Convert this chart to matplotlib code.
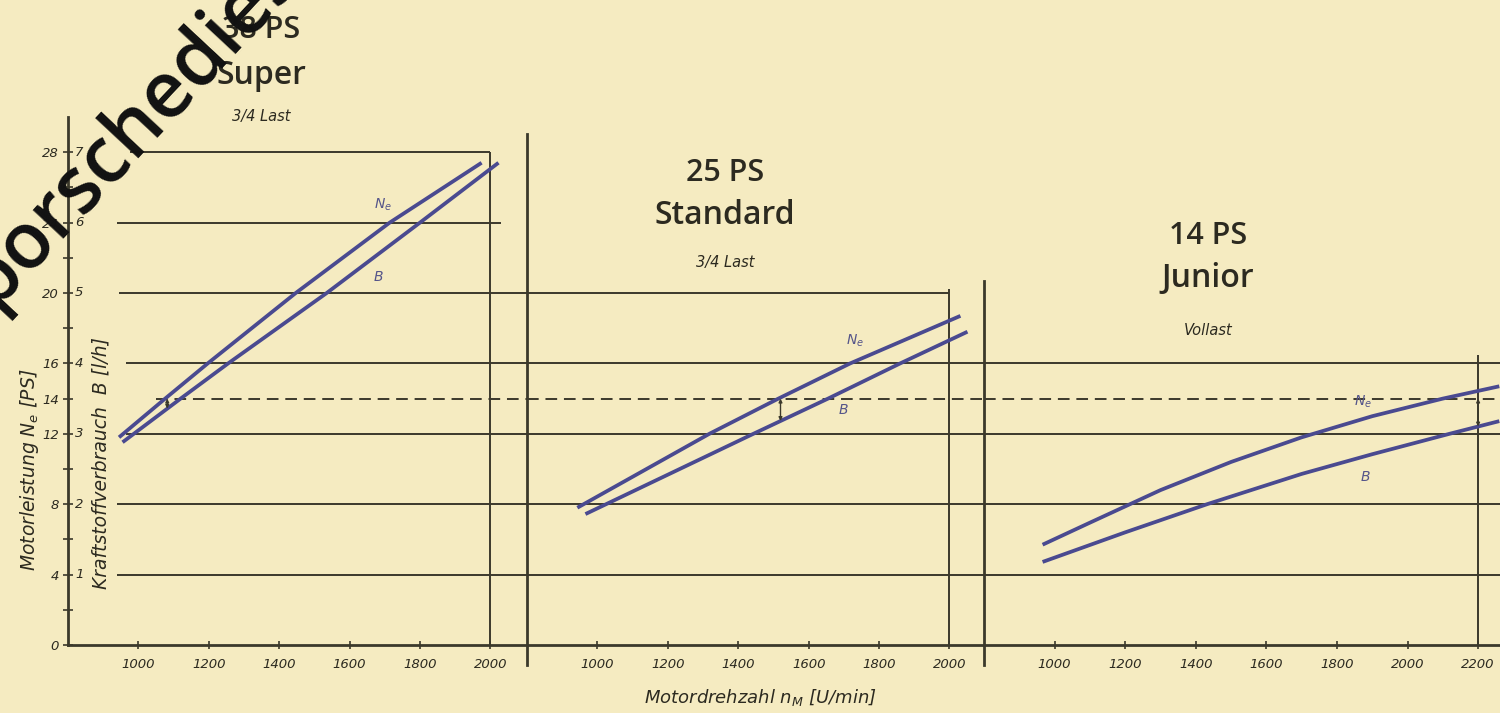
import matplotlib
matplotlib.use("Agg")
import matplotlib.pyplot as plt
import numpy as np

# right-hand scale: 1 l/h of fuel sits at 4 PS on the common vertical axis
PS_PER_LH = 4

ps_ticks = [0, 4, 8, 12, 14, 16, 20, 24, 28]
lh_ticks = [1, 2, 3, 4, 5, 6, 7]
ref_ps = 14  # dashed comparison line

titles = ["38 PS", "25 PS", "14 PS"]
models = ["Super", "Standard", "Junior"]
loads = ["3/4 Last", "3/4 Last", "Vollast"]

xticks = [
    [1000, 1200, 1400, 1600, 1800, 2000],
    [1000, 1200, 1400, 1600, 1800, 2000],
    [1000, 1200, 1400, 1600, 1800, 2000, 2200],
]

# Motorleistung Ne [PS] and Kraftstoffverbrauch B [l/h] over n [U/min]
super_rpm_ne = [945, 1076, 1197, 1447, 1714, 1975]
super_ne = [11.8, 14.0, 16.0, 20.0, 24.0, 27.4]
super_rpm_b = [955, 1120, 1255, 1535, 1800, 2023]
super_b = [2.88, 3.5, 4.0, 5.0, 6.0, 6.85]

standard_rpm_ne = [943, 1318, 1514, 1718, 2031]
standard_ne = [7.8, 12.0, 14.0, 16.0, 18.7]
standard_rpm_b = [966, 1443, 1655, 1860, 2051]
standard_b = [1.86, 3.0, 3.5, 4.0, 4.45]

junior_rpm_ne = [966, 1100, 1300, 1500, 1700, 1900, 2100, 2260]
junior_ne = [5.7, 6.95, 8.8, 10.4, 11.8, 13.0, 14.0, 14.7]
junior_rpm_b = [966, 1200, 1432, 1700, 1900, 2119, 2260]
junior_b = [1.18, 1.6, 2.0, 2.43, 2.71, 3.0, 3.18]

# rpm where the fuel difference at 14 PS is marked
gap_rpm = [1082, 1520, 2200]

BG = "#f5ebc1"
INK = "#3b392b"
CURVE = "#4a4a90"
TEXT = "#2c2a20"

W, H = 1500, 713


def fx(px):
    return px / W


def fy(py):
    return 1 - py / H


plt.rcParams["font.family"] = ["DejaVu Sans"]
plt.rcParams["mathtext.fontset"] = "dejavusans"

fig = plt.figure(figsize=(15, 7.13), dpi=100, facecolor=BG)

# panel frames in pixels: (left, right, rpm at left edge, rpm at right edge)
frames = [(68, 527, 800, 2104), (527, 984, 800, 2098), (984, 1500, 800, 2262)]
y0, y1 = 645, 117

axes = []
for left, right, r0, r1 in frames:
    ax = fig.add_axes([fx(left), fy(y0), (right - left) / W, (y0 - y1) / H])
    ax.set_facecolor("none")
    ax.set_xlim(r0, r1)
    ax.set_ylim(0, 30)
    for s in ["top", "right", "left"]:
        ax.spines[s].set_visible(False)
    ax.spines["bottom"].set_color(INK)
    ax.spines["bottom"].set_linewidth(2.0)
    axes.append(ax)

ax1, ax2, ax3 = axes

# ---- vertical axis of the first panel
ax1.spines["left"].set_visible(True)
ax1.spines["left"].set_color(INK)
ax1.spines["left"].set_linewidth(2.0)
ax1.set_yticks(ps_ticks)
ax1.set_yticks(np.arange(0, 30, 2), minor=True)
ax1.set_yticklabels([str(v) for v in ps_ticks], fontsize=9.5, style="italic", color=TEXT)
ax1.tick_params(axis="y", which="both", direction="inout", length=7, width=1.2, color=INK, pad=3)
for v in lh_ticks:
    ax1.annotate(str(v), xy=(0, v * PS_PER_LH), xycoords=("axes fraction", "data"),
                 xytext=(5, 0), textcoords="offset points", ha="left", va="center",
                 fontsize=9.5, style="italic", color=TEXT)
for ax in (ax2, ax3):
    ax.set_yticks([])

for ax, ticks in zip(axes, xticks):
    ax.set_xticks(ticks)
    ax.set_xticklabels([str(t) for t in ticks], fontsize=9.5, style="italic", color=TEXT)
    ax.tick_params(axis="x", direction="inout", length=6, width=1.2, color=INK, pad=6)

# ---- grid lines (level, start rpm, end rpm) per panel, as drawn in the original
grid_kw = dict(color=INK, lw=1.4)
dash_kw = dict(color=INK, lw=1.4, linestyles=(0, (6, 3.5)))

ax1.hlines(28, 975, 2000, **grid_kw)
ax1.hlines(24, 940, 2030, **grid_kw)
ax1.hlines(20, 945, 2104, **grid_kw)
for lvl, start in [(16, 965), (12, 965), (8, 940), (4, 940)]:
    ax1.hlines(lvl, start, 2104, **grid_kw)
ax1.hlines(ref_ps, 1050, 2104, **dash_kw)
ax1.vlines(2000, 0, 28, **grid_kw)

ax2.hlines(20, 800, 2000, **grid_kw)
for lvl in [16, 12, 8, 4]:
    ax2.hlines(lvl, 800, 2098, **grid_kw)
ax2.hlines(ref_ps, 800, 2098, **dash_kw)
ax2.vlines(2000, 0, 20.2, **grid_kw)

for lvl in [16, 12, 8, 4]:
    ax3.hlines(lvl, 800, 2262, **grid_kw)
ax3.hlines(ref_ps, 800, 2262, **dash_kw)
ax3.vlines(2200, 0, 16.5, **grid_kw)

# dividers between the panels
ax2.axvline(800, ymin=-0.038, ymax=0.967, color=INK, lw=2.0, clip_on=False)
ax3.axvline(800, ymin=-0.038, ymax=0.69, color=INK, lw=2.0, clip_on=False)

# ---- curves
series = [
    (super_rpm_ne, super_ne, super_rpm_b, super_b),
    (standard_rpm_ne, standard_ne, standard_rpm_b, standard_b),
    (junior_rpm_ne, junior_ne, junior_rpm_b, junior_b),
]
label_pos = [
    ((1696, 25.0), (1682, 20.9)),
    ((1732, 17.3), (1698, 13.35)),
    ((1873, 13.8), (1880, 9.55)),
]
for ax, (rn, ne, rb, b), gap, (pn, pb) in zip(axes, series, gap_rpm, label_pos):
    b_ps = np.array(b) * PS_PER_LH
    ax.plot(rn, ne, color=CURVE, lw=2.7, solid_capstyle="butt", solid_joinstyle="round",
            clip_on=False, zorder=3)
    ax.plot(rb, b_ps, color=CURVE, lw=2.7, solid_capstyle="butt", solid_joinstyle="round",
            clip_on=False, zorder=3)
    b_gap = np.interp(gap, rb, b_ps)
    ax.annotate("", xy=(gap, b_gap), xytext=(gap, ref_ps),
                arrowprops=dict(arrowstyle="<|-|>", color=INK, lw=1.0,
                                mutation_scale=5, shrinkA=0, shrinkB=0), zorder=4)
    ax.text(*pn, r"$N_e$", fontsize=10, color="#55558a", ha="center", va="center",
            style="italic", zorder=5)
    ax.text(*pb, "B", fontsize=10, color="#55558a", ha="center", va="center",
            style="italic", zorder=5)

# ---- headings
head_px = [(261, 30, 75, 117), (725, 173, 215, 263), (1208, 236, 279, 330)]
for (cx, ya, yb, yc), t, m, ld in zip(head_px, titles, models, loads):
    fig.text(fx(cx), fy(ya), t, fontsize=22, ha="center", va="center", color=TEXT,
             family=["Open Sans", "DejaVu Sans"], weight="semibold")
    fig.text(fx(cx), fy(yb), m, fontsize=23, ha="center", va="center", color=TEXT,
             family=["Open Sans", "DejaVu Sans"], weight="semibold")
    fig.text(fx(cx), fy(yc), ld, fontsize=10.5, ha="center", va="center", color=TEXT,
             style="italic")

# ---- axis titles
fig.text(fx(30), fy(470), r"Motorleistung $N_e$ [PS]", rotation=90, fontsize=13.5,
         style="italic", ha="center", va="center", color=TEXT)
fig.text(fx(101), fy(463), "Kraftstoffverbrauch  B [l/h]", rotation=90, fontsize=13.5,
         style="italic", ha="center", va="center", color=TEXT)
fig.text(fx(760), fy(697), r"Motordrehzahl $n_M$ [U/min]", fontsize=13,
         style="italic", ha="center", va="center", color=TEXT)

# ---- watermark of the scanned source
fig.text(fx(-7), fy(308), "porschediesel", rotation=47, rotation_mode="anchor",
         fontsize=56, family=["Open Sans", "DejaVu Sans"], weight="semibold",
         color="#111111", ha="left", va="baseline", zorder=10)

fig.savefig("out.png", dpi=100, facecolor=BG)
